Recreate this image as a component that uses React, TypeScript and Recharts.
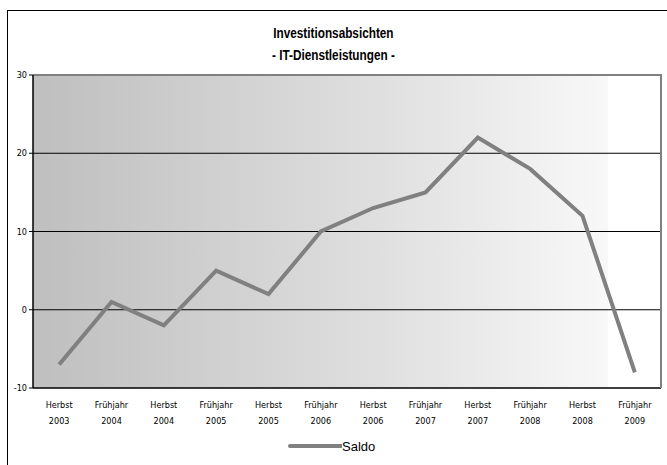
import React from "react";
import {
  ComposedChart,
  Line,
  XAxis,
  YAxis,
  ReferenceLine,
  CartesianGrid,
} from "recharts";

const seasons = [
  "Herbst", "Frühjahr", "Herbst", "Frühjahr", "Herbst", "Frühjahr",
  "Herbst", "Frühjahr", "Herbst", "Frühjahr", "Herbst", "Frühjahr",
];
const years = [
  "2003", "2004", "2004", "2005", "2005", "2006",
  "2006", "2007", "2007", "2008", "2008", "2009",
];
const saldo = [-7, 1, -2, 5, 2, 10, 13, 15, 22, 18, 12, -8];
const yTicks = [-10, 0, 10, 20, 30];
const gridValues = [0, 10, 20];

const data = saldo.map((v, i) => ({ x: i + 0.5, saldo: v }));
const boundaryTicks = seasons.map((_, i) => i).concat([seasons.length]);
const labelTicks = seasons.map((_, i) => i + 0.5);

const FONT = "'DejaVu Sans Condensed', 'Liberation Sans', sans-serif";
const TITLE_FONT = "'Liberation Sans', Arial, sans-serif";
const LEGEND_FONT = "'Liberation Sans', Arial, sans-serif";

const LabelTick = (props: any) => {
  const { x, y, payload } = props;
  const idx = Math.floor(payload.value);
  return (
    <g>
      <text
        x={x}
        y={y + 8}
        textAnchor="middle"
        fontSize={9}
        fill="#000"
        fontFamily={FONT}
      >
        {seasons[idx]}
      </text>
      <text
        x={x}
        y={y + 24}
        textAnchor="middle"
        fontSize={9}
        fill="#000"
        fontFamily={FONT}
      >
        {years[idx]}
      </text>
    </g>
  );
};

export default function App() {
  return (
    <div
      style={{
        position: "absolute",
        left: 0,
        top: 0,
        width: 667,
        height: 465,
        background: "#fff",
        fontFamily: FONT,
      }}
    >
      <div
        style={{
          position: "absolute",
          left: 7,
          top: 10,
          width: 660,
          height: 455,
          borderTop: "1.5px solid #000",
          borderLeft: "1.5px solid #000",
          boxSizing: "border-box",
        }}
      />
      <div
        style={{
          position: "absolute",
          left: 0,
          top: 22,
          width: 667,
          textAlign: "center",
          fontSize: 14,
          fontWeight: "bold",
          lineHeight: "22px",
          color: "#000",
          fontFamily: TITLE_FONT,
          transform: "scaleX(0.84)",
          transformOrigin: "333px 0",
        }}
      >
        <div>Investitionsabsichten</div>
        <div>- IT-Dienstleistungen -</div>
      </div>
      <ComposedChart
        width={667}
        height={465}
        data={data}
        margin={{ top: 75, right: 6, bottom: 40, left: 8 }}
        style={{ position: "absolute", left: 0, top: 0 }}
      >
        <defs>
          <linearGradient id="bg" x1="0" y1="0" x2="1" y2="0">
            <stop offset="0" stopColor="#bfbfbf" />
            <stop offset="0.5" stopColor="#dcdcdc" />
            <stop offset="0.915" stopColor="#f8f8f8" />
            <stop offset="0.915" stopColor="#ffffff" />
            <stop offset="1" stopColor="#ffffff" />
          </linearGradient>
        </defs>
        <CartesianGrid
          fill="url(#bg)"
          horizontal={false}
          vertical={false}
          stroke="none"
        />
        <XAxis
          xAxisId={0}
          dataKey="x"
          type="number"
          domain={[0, 12]}
          allowDataOverflow
          ticks={boundaryTicks}
          tick={false}
          tickSize={4}
          height={4}
          axisLine={{ stroke: "#000", strokeWidth: 1.5 }}
          tickLine={{ stroke: "#000" }}
          interval={0}
        />
        <XAxis
          xAxisId="lbl"
          dataKey="x"
          type="number"
          domain={[0, 12]}
          allowDataOverflow
          ticks={labelTicks}
          tick={<LabelTick />}
          axisLine={false}
          tickLine={false}
          height={33}
          interval={0}
        />
        <YAxis
          yAxisId={0}
          type="number"
          domain={[-10, 30]}
          ticks={yTicks}
          width={25}
          tickSize={4}
          tickMargin={2}
          tick={{ fontSize: 9, fill: "#000", fontFamily: FONT }}
          axisLine={{ stroke: "#000", strokeWidth: 1.5 }}
          tickLine={{ stroke: "#000" }}
          interval={0}
        />
        {gridValues.map((v) => (
          <ReferenceLine key={v} xAxisId={0} yAxisId={0} y={v} stroke="#000" strokeWidth={1} />
        ))}
        <ReferenceLine xAxisId={0} yAxisId={0} y={30} stroke="#808080" strokeWidth={2} ifOverflow="visible" />
        <Line
          xAxisId={0}
          yAxisId={0}
          type="linear"
          dataKey="saldo"
          stroke="#808080"
          strokeWidth={4}
          dot={false}
          activeDot={false}
          isAnimationActive={false}
        />
      </ComposedChart>
      <div
        style={{
          position: "absolute",
          left: 660,
          top: 74,
          width: 2,
          height: 314,
          background: "#808080",
        }}
      />
      <div
        style={{
          position: "absolute",
          left: 288,
          top: 437,
          height: 18,
          display: "flex",
          alignItems: "center",
        }}
      >
        <svg width={54} height={18}>
          <line x1={2} y1={9} x2={54} y2={9} stroke="#808080" strokeWidth={4} strokeLinecap="round" />
        </svg>
        <span style={{ fontSize: 13, color: "#000", fontFamily: LEGEND_FONT }}>Saldo</span>
      </div>
    </div>
  );
}
